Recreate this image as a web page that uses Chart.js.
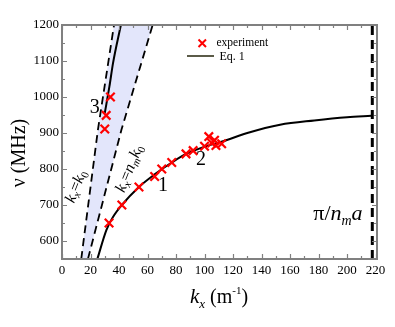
<!DOCTYPE html>
<html>
<head>
<meta charset="utf-8">
<script src="https://cdn.jsdelivr.net/npm/chart.js@4.4.1/dist/chart.umd.min.js"></script>
<style>
  html, body { margin: 0; padding: 0; background: #fff; }
</style>
</head>
<body>
<canvas id="c" width="395" height="327"></canvas>
<script>
// --- DATA ---
const xTicks = [0, 20, 40, 60, 80, 100, 120, 140, 160, 180, 200, 220];
const yTicks = [600, 700, 800, 900, 1000, 1100, 1200];
const xMinor = [10, 30, 50, 70, 90, 110, 130, 150, 170, 190, 210];
const yMinor = [550, 650, 750, 850, 950, 1050, 1150];

// experiment (red crosses)
const expX = [33, 42, 54, 65, 70, 77, 87, 92, 100, 103, 105, 107, 108, 112, 30, 31, 34];
const expY = [650, 700, 750, 779, 800, 818, 842, 851, 863, 890, 872, 880, 865, 870, 911, 949, 1000];

// Eq. 1, lower branch (1-2)
const eqLowX = [24.8, 31.2, 36, 42, 54, 65, 77, 87, 100, 113, 130, 153, 177, 200, 217];
const eqLowY = [550, 631, 668, 700, 750, 785, 818, 842, 862, 877, 900, 923, 935, 944, 948];
// Eq. 1, upper branch (3)
const eqUpX = [30, 33.3, 35.8, 41.3];
const eqUpY = [955, 1030, 1094, 1200];

// light lines k_x = k0 and k_x = n_m k0
const k0X = [13.5, 25.2, 36.5];
const k0Y = [550, 909, 1200];
const nk0X = [18.2, 41.7, 63.6];
const nk0Y = [550, 909, 1200];

// zone edge pi / n_m a
const edgeX = [217.7, 217.7];
const edgeY = [550, 1200];

const pts = (xs, ys) => xs.map((x, i) => ({ x: x, y: ys[i] }));

const SERIF = "'Liberation Serif', 'DejaVu Serif', serif";
const FRAME = "#808080";
Chart.defaults.font.family = SERIF;
Chart.defaults.color = "#000";

// draws a run of text pieces: [text, italic, size, dy]
function runs(ctx, x, y, parts) {
  let cx = x;
  parts.forEach(([t, it, size, dy]) => {
    ctx.font = (it ? "italic " : "") + size + "px " + SERIF;
    ctx.fillText(t, cx, y + (dy || 0));
    cx += ctx.measureText(t).width;
  });
  return cx - x;
}
function runsWidth(ctx, parts) {
  let w = 0;
  parts.forEach(([t, it, size]) => {
    ctx.font = (it ? "italic " : "") + size + "px " + SERIF;
    w += ctx.measureText(t).width;
  });
  return w;
}

const decor = {
  id: "decor",
  afterDatasetsDraw(chart) {
    const ctx = chart.ctx;
    const a = chart.chartArea;
    const sx = chart.scales.x, sy = chart.scales.y;
    ctx.save();

    // frame
    ctx.strokeStyle = FRAME;
    ctx.lineWidth = 2;
    ctx.strokeRect(a.left, a.top, a.right - a.left, a.bottom - a.top);

    // inward ticks on all four sides
    ctx.lineWidth = 1.2;
    ctx.beginPath();
    const tx = (v, len) => {
      const p = Math.round(sx.getPixelForValue(v)) + 0.5;
      ctx.moveTo(p, a.bottom); ctx.lineTo(p, a.bottom - len);
      ctx.moveTo(p, a.top); ctx.lineTo(p, a.top + len);
    };
    const ty = (v, len) => {
      const p = Math.round(sy.getPixelForValue(v)) + 0.5;
      ctx.moveTo(a.left, p); ctx.lineTo(a.left + len, p);
      ctx.moveTo(a.right, p); ctx.lineTo(a.right - len, p);
    };
    xTicks.forEach(v => tx(v, 5));
    xMinor.forEach(v => tx(v, 3));
    yTicks.forEach(v => ty(v, 5));
    yMinor.forEach(v => ty(v, 3));
    ctx.stroke();

    ctx.fillStyle = "#000";
    ctx.textBaseline = "alphabetic";
    ctx.textAlign = "left";

    // branch numbers
    ctx.font = "20px " + SERIF;
    ctx.textAlign = "center";
    ctx.textBaseline = "middle";
    ctx.fillText("1", sx.getPixelForValue(70.9), sy.getPixelForValue(754));
    ctx.fillText("2", sx.getPixelForValue(97.5), sy.getPixelForValue(826));
    ctx.fillText("3", sx.getPixelForValue(22.9), sy.getPixelForValue(970));
    ctx.textAlign = "left";
    ctx.textBaseline = "alphabetic";

    // pi / n_m a
    const edge = [["\u03c0/", false, 22], ["n", true, 22], ["m", true, 14, 5], ["a", true, 22]];
    const ew = runsWidth(ctx, edge);
    runs(ctx, sx.getPixelForValue(193.6) - ew / 2, sy.getPixelForValue(679) + 7, edge);

    // rotated line labels
    const rot = (x, y, ang, parts) => {
      ctx.save();
      ctx.translate(sx.getPixelForValue(x), sy.getPixelForValue(y));
      ctx.rotate(ang * Math.PI / 180);
      const w = runsWidth(ctx, parts);
      runs(ctx, -w / 2, 5, parts);
      ctx.restore();
    };
    rot(9.5, 752, -68, [["k", true, 16], ["x", true, 11, 3], ["=", false, 16], ["k", true, 16], ["0", false, 11, 3]]);
    rot(47, 802, -68, [["k", true, 16], ["x", true, 11, 3], ["=", false, 16], ["n", true, 16], ["m", true, 11, 3], ["k", true, 16], ["0", false, 11, 3]]);

    // legend
    ctx.strokeStyle = "#ff0000";
    ctx.lineWidth = 2;
    ctx.beginPath();
    ctx.moveTo(198.5, 39.5); ctx.lineTo(206, 47);
    ctx.moveTo(206, 39.5); ctx.lineTo(198.5, 47);
    ctx.stroke();
    ctx.strokeStyle = "#5b5b48";
    ctx.beginPath();
    ctx.moveTo(187, 56); ctx.lineTo(214, 56);
    ctx.stroke();
    ctx.textBaseline = "middle";
    ctx.font = "11.5px " + SERIF;
    ctx.fillText("experiment", 216.5, 43);
    ctx.font = "12px " + SERIF;
    ctx.fillText("Eq. 1", 219.5, 56.5);

    // axis titles
    ctx.textBaseline = "alphabetic";
    const xt = [["k", true, 21], ["x", true, 13, 5], [" (m", false, 20], ["-1", false, 11, -9], [")", false, 20]];
    const xw = runsWidth(ctx, xt);
    runs(ctx, 219 - xw / 2, 303, xt);

    ctx.save();
    ctx.translate(25, 153);
    ctx.rotate(-Math.PI / 2);
    ctx.font = "20px " + SERIF;
    ctx.textAlign = "center";
    ctx.fillText("\u03bd (MHz)", 0, 0);
    ctx.restore();

    ctx.restore();
  }
};

new Chart(document.getElementById("c"), {
  type: "scatter",
  data: {
    datasets: [
      {
        label: "experiment",
        data: pts(expX, expY),
        pointStyle: "crossRot",
        pointRadius: 6,
        pointBorderWidth: 2.2,
        borderColor: "#ff0000",
        backgroundColor: "#ff0000",
        order: 0
      },
      {
        label: "Eq. 1",
        data: pts(eqLowX, eqLowY),
        showLine: true,
        borderColor: "#000",
        borderWidth: 2,
        pointRadius: 0,
        cubicInterpolationMode: "monotone",
        order: 1
      },
      {
        label: "Eq. 1 upper",
        data: pts(eqUpX, eqUpY),
        showLine: true,
        borderColor: "#000",
        borderWidth: 2,
        pointRadius: 0,
        cubicInterpolationMode: "monotone",
        order: 1
      },
      {
        label: "k0",
        data: pts(k0X, k0Y),
        showLine: true,
        borderColor: "#000",
        borderWidth: 1.8,
        borderDash: [8, 5],
        pointRadius: 0,
        order: 2
      },
      {
        label: "nk0",
        data: pts(nk0X, nk0Y),
        showLine: true,
        borderColor: "#000",
        borderWidth: 1.8,
        borderDash: [8, 5],
        pointRadius: 0,
        order: 2
      },
      {
        label: "edge",
        data: pts(edgeX, edgeY),
        showLine: true,
        borderColor: "#000",
        borderWidth: 3,
        borderDash: [9, 5],
        pointRadius: 0,
        order: 2
      },
      {
        label: "band",
        data: pts(k0X, k0Y).concat(pts(nk0X, nk0Y).reverse()),
        showLine: true,
        borderWidth: 0,
        borderColor: "rgba(0,0,0,0)",
        backgroundColor: "#e3e6fb",
        fill: "shape",
        pointRadius: 0,
        order: 5
      }
    ]
  },
  options: {
    responsive: false,
    animation: false,
    layout: { padding: { top: 25, right: 18, left: 0, bottom: 0 } },
    plugins: {
      legend: { display: false },
      tooltip: { enabled: false }
    },
    scales: {
      x: {
        type: "linear",
        min: 0,
        max: 221,
        afterBuildTicks: s => { s.ticks = xTicks.map(v => ({ value: v })); },
        afterFit: s => { s.height = 68; },
        grid: { display: false, drawTicks: false },
        border: { display: false },
        ticks: { color: "#000", padding: 4, font: { family: SERIF, size: 13 }, maxRotation: 0, callback: v => String(v) }
      },
      y: {
        type: "linear",
        min: 550,
        max: 1200,
        afterBuildTicks: s => { s.ticks = yTicks.map(v => ({ value: v })); },
        afterFit: s => { s.width = 62; },
        grid: { display: false, drawTicks: false },
        border: { display: false },
        ticks: { color: "#000", padding: 3, font: { family: SERIF, size: 13 }, callback: v => String(v) }
      }
    }
  },
  plugins: [decor]
});
</script>
</body>
</html>
